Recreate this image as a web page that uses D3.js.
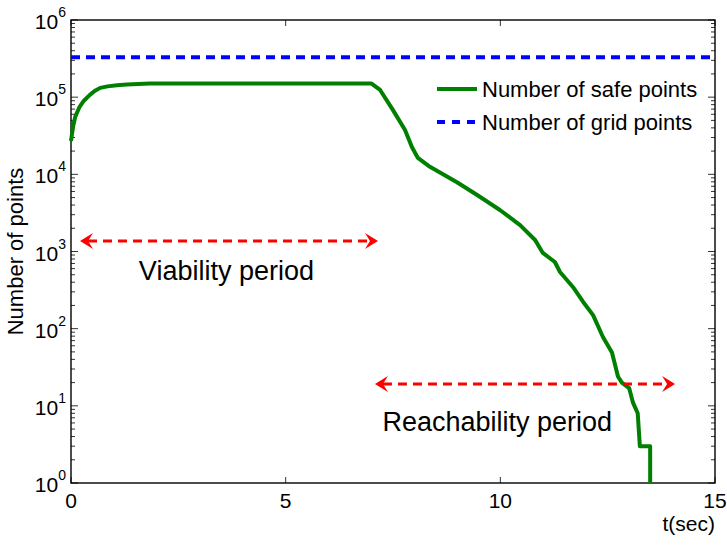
<!DOCTYPE html>
<html>
<head>
<meta charset="utf-8">
<script src="https://cdn.jsdelivr.net/npm/d3@7"></script>
<style>
  body { margin: 0; background: #fff; }
  text { font-family: "Liberation Sans", Arial, Helvetica, sans-serif; fill: #000; }
</style>
</head>
<body>
<div id="chart"></div>
<script>
// Number of safe points over time
const safeT = [0, 0.05, 0.1, 0.2, 0.3, 0.44, 0.55, 0.68, 0.85, 1.07, 1.3, 1.84, 3, 5, 7.0, 7.2, 7.5, 7.78, 7.94, 8.08, 8.36, 8.99, 9.46, 9.99,
  10.46, 10.81, 10.99, 11.27, 11.39, 11.69, 11.93, 12.16, 12.39, 12.6, 12.74, 12.83, 13.0, 13.09, 13.2, 13.25, 13.49, 13.49];
const safeN = [2.7e4, 4.2e4, 5.6e4, 7.5e4, 9e4, 1.07e5, 1.2e5, 1.32e5, 1.38e5, 1.43e5, 1.46e5, 1.5e5, 1.5e5, 1.5e5, 1.5e5, 1.24e5, 6.8e4, 3.76e4, 2.26e4, 1.63e4, 1.25e4, 7.9e3, 5.4e3, 3.45e3,
  2.2e3, 1.41e3, 957, 731, 543, 347, 222, 150, 78, 49, 24, 20, 17, 11, 8, 3, 3, 1];
const gridN = 3.3e5;

const xTicks = [0, 5, 10, 15];
const yExps = [0, 1, 2, 3, 4, 5, 6];

// annotation arrows: [t start, t end, value]
const arrows = [[0.21, 7.15, 1370], [7.08, 14.07, 19.2]];
const notes = [
  { text: "Viability period", t: 3.62, v: 427 },
  { text: "Reachability period", t: 9.93, v: 4.7 }
];
const legendItems = ["Number of safe points", "Number of grid points"];

const W = 727, H = 545;
const margin = { top: 20, right: 12, bottom: 62, left: 71 };

const svg = d3.select("#chart").append("svg")
  .attr("width", W)
  .attr("height", H);

const x = d3.scaleLinear().domain([0, 15]).range([margin.left, W - margin.right]);
const y = d3.scaleLog().domain([1, 1e6]).range([H - margin.bottom, margin.top]);

const x0 = x.range()[0], x1 = x.range()[1];
const yb = y.range()[0], yt = y.range()[1];

// minor log ticks
const minor = [];
yExps.slice(0, -1).forEach(e => {
  for (let k = 2; k <= 9; k++) minor.push(k * Math.pow(10, e));
});

const tickG = svg.append("g").attr("stroke", "#333").attr("stroke-width", 1);
// y ticks left and right
minor.forEach(v => {
  tickG.append("line").attr("x1", x0).attr("x2", x0 + 4).attr("y1", y(v)).attr("y2", y(v));
  tickG.append("line").attr("x1", x1).attr("x2", x1 - 4).attr("y1", y(v)).attr("y2", y(v));
});
yExps.forEach(e => {
  const v = Math.pow(10, e);
  tickG.append("line").attr("x1", x0).attr("x2", x0 + 7).attr("y1", y(v)).attr("y2", y(v));
  tickG.append("line").attr("x1", x1).attr("x2", x1 - 7).attr("y1", y(v)).attr("y2", y(v));
});
// x ticks bottom and top
xTicks.forEach(t => {
  tickG.append("line").attr("x1", x(t)).attr("x2", x(t)).attr("y1", yb).attr("y2", yb - 6);
  tickG.append("line").attr("x1", x(t)).attr("x2", x(t)).attr("y1", yt).attr("y2", yt + 6);
});

// box
svg.append("rect")
  .attr("x", x0).attr("y", yt)
  .attr("width", x1 - x0).attr("height", yb - yt)
  .attr("fill", "none").attr("stroke", "#000").attr("stroke-width", 1.4);

// y tick labels 10^n
yExps.forEach(e => {
  const t = svg.append("text")
    .attr("x", x0 - 5)
    .attr("y", y(Math.pow(10, e)) + 9)
    .attr("text-anchor", "end")
    .style("font-size", "21px");
  t.append("tspan").text("10");
  t.append("tspan").attr("dy", -12).style("font-size", "14px").text(e);
});

// x tick labels
xTicks.forEach(t => {
  svg.append("text")
    .attr("x", x(t)).attr("y", 508)
    .attr("text-anchor", "middle")
    .style("font-size", "21px")
    .text(t);
});

// axis titles
svg.append("text")
  .attr("x", x1).attr("y", 531)
  .attr("text-anchor", "end")
  .style("font-size", "21px")
  .text("t(sec)");

svg.append("text")
  .attr("transform", `translate(23,${(yt + yb) / 2}) rotate(-90)`)
  .attr("text-anchor", "middle")
  .style("font-size", "22px")
  .text("Number of points");

// grid points line
svg.append("line")
  .attr("x1", x(0)).attr("x2", x(15))
  .attr("y1", y(gridN)).attr("y2", y(gridN))
  .attr("stroke", "#0000ff").attr("stroke-width", 4)
  .attr("stroke-dasharray", "9,6");

// safe points curve
const line = d3.line().x(d => x(d[0])).y(d => y(d[1]));
svg.append("path")
  .datum(safeT.map((t, i) => [t, safeN[i]]))
  .attr("d", line)
  .attr("fill", "none")
  .attr("stroke", "#008000")
  .attr("stroke-width", 4)
  .attr("stroke-linejoin", "round");

// double arrows
function head(px, py, dir) {
  // dir = 1 points right, -1 points left
  const L = 13, w = 8, n = 8;
  return `M${px},${py} L${px - dir * L},${py - w} L${px - dir * n},${py} L${px - dir * L},${py + w} Z`;
}
arrows.forEach(a => {
  const xa = x(a[0]), xb = x(a[1]), ya = y(a[2]);
  svg.append("line")
    .attr("x1", xa + 8).attr("x2", xb - 8)
    .attr("y1", ya).attr("y2", ya)
    .attr("stroke", "#ff0000").attr("stroke-width", 3)
    .attr("stroke-dasharray", "9,6");
  svg.append("path").attr("d", head(xa, ya, -1)).attr("fill", "#ff0000");
  svg.append("path").attr("d", head(xb, ya, 1)).attr("fill", "#ff0000");
});

notes.forEach(n => {
  svg.append("text")
    .attr("x", x(n.t)).attr("y", y(n.v))
    .attr("text-anchor", "middle")
    .style("font-size", "27px")
    .text(n.text);
});

// legend
const lg = svg.append("g");
const rows = [89, 122];
lg.append("line").attr("x1", 437).attr("x2", 477).attr("y1", rows[0]).attr("y2", rows[0])
  .attr("stroke", "#008000").attr("stroke-width", 4);
lg.append("line").attr("x1", 437).attr("x2", 477).attr("y1", rows[1]).attr("y2", rows[1])
  .attr("stroke", "#0000ff").attr("stroke-width", 4).attr("stroke-dasharray", "8,7");
legendItems.forEach((s, i) => {
  lg.append("text")
    .attr("x", 482).attr("y", rows[i] + 8)
    .style("font-size", "22px")
    .text(s);
});
</script>
</body>
</html>
